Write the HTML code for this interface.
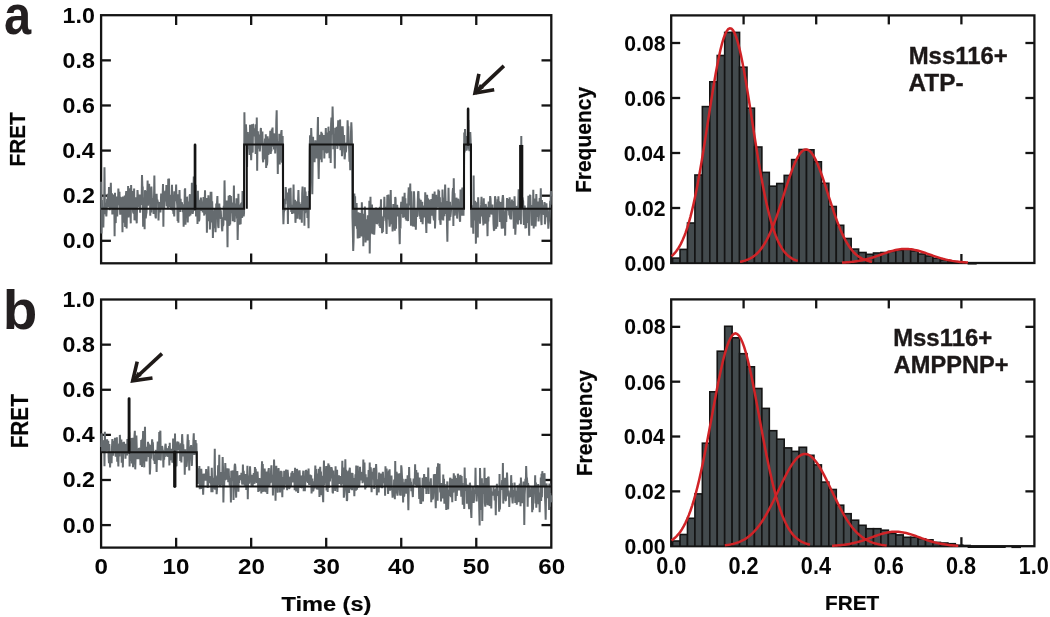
<!DOCTYPE html>
<html><head><meta charset="utf-8"><title>FRET figure</title><style>
html,body{margin:0;padding:0;background:#fff;}
svg{display:block;}
text{font-family:"Liberation Sans", Arial, Helvetica, sans-serif;font-weight:bold;fill:#050505;}
.tk{font-size:21px;}
.ti{stroke:#050505;stroke-width:0.2px;}
.lg{fill:#1c1818;stroke:#1c1818;stroke-width:0.35px;}
.big{font-size:56px;fill:#231f20;}
</style></head><body>
<svg width="1050" height="617" viewBox="0 0 1050 617">
<rect width="1050" height="617" fill="#ffffff"/>
<rect x="101.1" y="15.2" width="450.20" height="248.10" fill="none" stroke="#141414" stroke-width="2.3"/>
<line x1="101.1" y1="240.80" x2="110.89999999999999" y2="240.80" stroke="#141414" stroke-width="2.3"/>
<line x1="551.3" y1="240.80" x2="541.5" y2="240.80" stroke="#141414" stroke-width="2.3"/>
<line x1="101.1" y1="195.69" x2="110.89999999999999" y2="195.69" stroke="#141414" stroke-width="2.3"/>
<line x1="551.3" y1="195.69" x2="541.5" y2="195.69" stroke="#141414" stroke-width="2.3"/>
<line x1="101.1" y1="150.58" x2="110.89999999999999" y2="150.58" stroke="#141414" stroke-width="2.3"/>
<line x1="551.3" y1="150.58" x2="541.5" y2="150.58" stroke="#141414" stroke-width="2.3"/>
<line x1="101.1" y1="105.47" x2="110.89999999999999" y2="105.47" stroke="#141414" stroke-width="2.3"/>
<line x1="551.3" y1="105.47" x2="541.5" y2="105.47" stroke="#141414" stroke-width="2.3"/>
<line x1="101.1" y1="60.36" x2="110.89999999999999" y2="60.36" stroke="#141414" stroke-width="2.3"/>
<line x1="551.3" y1="60.36" x2="541.5" y2="60.36" stroke="#141414" stroke-width="2.3"/>
<line x1="176.13" y1="15.2" x2="176.13" y2="25.0" stroke="#141414" stroke-width="2.3"/>
<line x1="176.13" y1="263.3" x2="176.13" y2="253.5" stroke="#141414" stroke-width="2.3"/>
<line x1="251.17" y1="15.2" x2="251.17" y2="25.0" stroke="#141414" stroke-width="2.3"/>
<line x1="251.17" y1="263.3" x2="251.17" y2="253.5" stroke="#141414" stroke-width="2.3"/>
<line x1="326.20" y1="15.2" x2="326.20" y2="25.0" stroke="#141414" stroke-width="2.3"/>
<line x1="326.20" y1="263.3" x2="326.20" y2="253.5" stroke="#141414" stroke-width="2.3"/>
<line x1="401.23" y1="15.2" x2="401.23" y2="25.0" stroke="#141414" stroke-width="2.3"/>
<line x1="401.23" y1="263.3" x2="401.23" y2="253.5" stroke="#141414" stroke-width="2.3"/>
<line x1="476.27" y1="15.2" x2="476.27" y2="25.0" stroke="#141414" stroke-width="2.3"/>
<line x1="476.27" y1="263.3" x2="476.27" y2="253.5" stroke="#141414" stroke-width="2.3"/>
<polyline points="101.10,181.71 101.48,233.53 101.85,199.99 102.23,211.09 102.60,209.79 102.98,207.10 103.35,227.44 103.73,207.27 104.10,214.40 104.48,167.17 104.85,202.08 105.23,208.59 105.60,207.78 105.98,212.13 106.35,216.49 106.73,208.99 107.10,199.14 107.48,207.25 107.85,193.75 108.23,206.79 108.60,204.26 108.98,187.09 109.35,198.37 109.73,210.20 110.10,206.56 110.48,198.39 110.85,182.66 111.23,207.51 111.60,207.20 111.98,193.15 112.35,214.43 112.73,207.72 113.11,194.47 113.48,197.87 113.86,203.37 114.23,196.84 114.61,236.27 114.98,192.86 115.36,215.18 115.73,223.17 116.11,201.23 116.48,196.44 116.86,209.34 117.23,216.45 117.61,204.01 117.98,204.89 118.36,188.44 118.73,195.85 119.11,202.08 119.48,191.73 119.86,206.57 120.23,214.68 120.61,197.65 120.98,197.65 121.36,206.63 121.73,213.03 122.11,201.61 122.48,232.30 122.86,196.39 123.23,198.63 123.61,222.63 123.99,203.46 124.36,215.01 124.74,195.59 125.11,227.05 125.49,214.42 125.86,196.10 126.24,191.05 126.61,228.41 126.99,209.69 127.36,200.36 127.74,210.92 128.11,186.11 128.49,217.47 128.86,200.03 129.24,215.84 129.61,188.15 129.99,204.24 130.36,208.18 130.74,223.35 131.11,185.01 131.49,195.47 131.86,195.45 132.24,191.11 132.61,199.99 132.99,211.13 133.36,212.93 133.74,212.92 134.11,188.45 134.49,220.35 134.86,210.60 135.24,207.49 135.62,201.32 135.99,197.36 136.37,217.92 136.74,223.33 137.12,203.87 137.49,190.13 137.87,195.26 138.24,201.36 138.62,207.36 138.99,200.46 139.37,206.51 139.74,194.54 140.12,212.70 140.49,202.22 140.87,204.97 141.24,197.59 141.62,201.17 141.99,174.94 142.37,186.79 142.74,186.80 143.12,226.66 143.49,207.50 143.87,210.51 144.24,197.63 144.62,229.33 144.99,190.38 145.37,191.58 145.74,218.28 146.12,214.63 146.50,212.62 146.87,203.09 147.25,196.34 147.62,180.47 148.00,205.78 148.37,194.89 148.75,201.78 149.12,183.68 149.50,195.15 149.87,188.08 150.25,215.65 150.62,205.66 151.00,212.66 151.37,186.50 151.75,196.05 152.12,206.89 152.50,208.55 152.87,197.97 153.25,211.34 153.62,213.91 154.00,197.98 154.37,175.63 154.75,206.17 155.12,209.65 155.50,216.58 155.87,218.42 156.25,197.44 156.62,193.76 157.00,203.24 157.38,199.58 157.75,202.02 158.13,201.75 158.50,220.51 158.88,208.46 159.25,202.03 159.63,212.11 160.00,208.64 160.38,212.50 160.75,207.01 161.13,193.63 161.50,207.82 161.88,204.96 162.25,194.04 162.63,195.94 163.00,184.09 163.38,226.76 163.75,193.52 164.13,208.61 164.50,201.65 164.88,193.71 165.25,190.94 165.63,191.42 166.00,201.38 166.38,184.98 166.75,206.31 167.13,204.70 167.50,194.09 167.88,209.31 168.25,178.72 168.63,191.58 169.01,178.53 169.38,203.35 169.76,207.37 170.13,201.15 170.51,194.75 170.88,209.64 171.26,198.73 171.63,203.19 172.01,184.78 172.38,210.46 172.76,191.18 173.13,210.23 173.51,213.79 173.88,210.96 174.26,216.36 174.63,201.28 175.01,191.30 175.38,201.06 175.76,195.87 176.13,184.50 176.51,199.85 176.88,200.68 177.26,205.97 177.63,221.00 178.01,194.29 178.38,222.65 178.76,195.48 179.13,202.99 179.51,190.12 179.88,203.58 180.26,212.08 180.64,198.76 181.01,209.10 181.39,204.82 181.76,202.30 182.14,204.28 182.51,204.88 182.89,212.13 183.26,204.87 183.64,226.83 184.01,204.49 184.39,216.22 184.76,190.07 185.14,188.37 185.51,224.68 185.89,201.04 186.26,204.09 186.64,214.46 187.01,196.65 187.39,207.84 187.76,222.56 188.14,205.63 188.51,204.28 188.89,201.40 189.26,216.48 189.64,195.64 190.01,194.29 190.39,215.49 190.76,209.99 191.14,203.46 191.52,208.92 191.89,182.87 192.27,200.18 192.64,213.91 193.02,211.39 193.39,203.15 193.77,176.61 194.14,204.49 194.52,201.04 194.89,204.56 195.27,210.86 195.64,184.74 196.02,216.50 196.39,202.16 196.77,208.79 197.14,203.64 197.52,223.96 197.89,190.81 198.27,212.16 198.64,210.46 199.02,221.43 199.39,219.16 199.77,204.62 200.14,199.91 200.52,202.59 200.89,197.50 201.27,203.12 201.64,210.91 202.02,201.84 202.39,204.63 202.77,212.51 203.15,203.23 203.52,196.97 203.90,208.87 204.27,215.58 204.65,203.51 205.02,190.23 205.40,214.08 205.77,212.80 206.15,213.35 206.52,198.07 206.90,232.62 207.27,207.83 207.65,198.56 208.02,221.22 208.40,195.31 208.77,206.11 209.15,218.38 209.52,209.94 209.90,229.59 210.27,218.72 210.65,191.79 211.02,222.51 211.40,191.69 211.77,213.45 212.15,201.37 212.52,212.13 212.90,237.95 213.27,219.18 213.65,210.63 214.03,225.80 214.40,228.06 214.78,208.79 215.15,220.29 215.53,232.14 215.90,220.78 216.28,203.41 216.65,218.50 217.03,202.67 217.40,196.04 217.78,212.94 218.15,226.09 218.53,228.08 218.90,213.75 219.28,203.56 219.65,210.51 220.03,207.42 220.40,218.64 220.78,210.30 221.15,219.05 221.53,217.36 221.90,228.20 222.28,231.30 222.65,218.95 223.03,225.95 223.40,224.22 223.78,205.79 224.15,214.51 224.53,180.39 224.90,202.74 225.28,220.27 225.66,204.30 226.03,209.00 226.41,220.70 226.78,200.48 227.16,221.60 227.53,247.28 227.91,203.79 228.28,219.65 228.66,195.88 229.03,219.90 229.41,225.84 229.78,195.01 230.16,224.54 230.53,210.06 230.91,195.96 231.28,210.96 231.66,213.10 232.03,210.98 232.41,202.62 232.78,221.12 233.16,205.09 233.53,205.41 233.91,185.56 234.28,215.60 234.66,222.07 235.03,203.40 235.41,216.12 235.78,208.32 236.16,210.03 236.54,198.30 236.91,218.82 237.29,212.40 237.66,240.08 238.04,221.29 238.41,193.88 238.79,218.83 239.16,219.00 239.54,224.76 239.91,204.44 240.29,208.91 240.66,224.25 241.04,203.29 241.41,207.82 241.79,202.20 242.16,217.88 242.54,190.99 242.91,205.91 243.29,211.80 243.66,216.27 244.04,213.13 244.41,112.27 244.79,145.22 245.16,127.67 245.54,134.25 245.91,124.30 246.29,131.33 246.66,142.87 247.04,167.09 247.41,138.28 247.79,131.94 248.17,140.20 248.54,135.12 248.92,148.64 249.29,147.51 249.67,154.93 250.04,124.86 250.42,140.67 250.79,149.26 251.17,160.30 251.54,144.96 251.92,124.15 252.29,137.05 252.67,152.64 253.04,124.53 253.42,124.62 253.79,130.54 254.17,133.12 254.54,128.39 254.92,136.47 255.29,133.51 255.67,153.92 256.04,124.17 256.42,140.83 256.79,117.45 257.17,170.70 257.54,134.84 257.92,131.29 258.29,148.69 258.67,138.35 259.05,134.55 259.42,136.86 259.80,151.54 260.17,146.40 260.55,131.29 260.92,127.98 261.30,143.46 261.67,143.82 262.05,142.27 262.42,131.39 262.80,158.73 263.17,162.30 263.55,143.28 263.92,159.35 264.30,152.54 264.67,143.71 265.05,138.51 265.42,158.82 265.80,134.29 266.17,167.96 266.55,137.60 266.92,165.35 267.30,161.37 267.67,136.28 268.05,149.97 268.42,155.04 268.80,150.43 269.17,138.51 269.55,145.28 269.92,144.94 270.30,130.74 270.68,153.88 271.05,150.66 271.43,151.30 271.80,129.16 272.18,131.46 272.55,127.58 272.93,144.83 273.30,146.42 273.68,133.19 274.05,149.49 274.43,133.44 274.80,134.81 275.18,153.40 275.55,145.33 275.93,145.78 276.30,121.53 276.68,110.34 277.05,145.47 277.43,143.96 277.80,173.96 278.18,141.33 278.55,144.17 278.93,158.09 279.30,133.77 279.68,164.50 280.05,146.81 280.43,142.16 280.80,160.29 281.18,132.73 281.56,130.11 281.93,162.03 282.31,162.29 282.68,135.98 283.06,209.61 283.43,224.22 283.81,212.83 284.18,210.47 284.56,210.88 284.93,198.81 285.31,204.27 285.68,187.06 286.06,191.93 286.43,200.53 286.81,195.55 287.18,192.46 287.56,200.09 287.93,224.02 288.31,198.13 288.68,207.86 289.06,188.64 289.43,207.53 289.81,202.13 290.18,204.54 290.56,187.74 290.93,206.37 291.31,211.87 291.68,204.67 292.06,213.92 292.43,206.43 292.81,208.50 293.19,205.00 293.56,184.49 293.94,213.34 294.31,207.82 294.69,210.72 295.06,199.87 295.44,222.84 295.81,216.74 296.19,208.61 296.56,201.31 296.94,208.63 297.31,214.23 297.69,218.74 298.06,201.61 298.44,190.04 298.81,203.89 299.19,205.53 299.56,202.33 299.94,219.49 300.31,211.63 300.69,211.06 301.06,204.04 301.44,208.07 301.81,222.73 302.19,193.65 302.56,186.59 302.94,210.81 303.31,202.57 303.69,204.17 304.07,197.72 304.44,225.77 304.82,187.38 305.19,213.16 305.57,191.64 305.94,206.29 306.32,212.09 306.69,208.97 307.07,196.07 307.44,217.87 307.82,211.79 308.19,213.08 308.57,228.35 308.94,190.91 309.32,199.83 309.69,150.88 310.07,135.38 310.44,163.11 310.82,151.56 311.19,128.03 311.57,137.79 311.94,179.71 312.32,194.18 312.69,164.17 313.07,136.72 313.44,156.78 313.82,153.45 314.19,142.64 314.57,162.18 314.94,147.82 315.32,140.24 315.70,144.49 316.07,145.42 316.45,158.47 316.82,143.87 317.20,156.19 317.57,133.53 317.95,116.99 318.32,160.28 318.70,179.04 319.07,155.83 319.45,144.99 319.82,135.85 320.20,135.13 320.57,159.16 320.95,158.95 321.32,131.66 321.70,162.18 322.07,133.30 322.45,150.18 322.82,136.86 323.20,137.31 323.57,136.04 323.95,135.13 324.32,158.47 324.70,141.30 325.07,144.67 325.45,140.48 325.82,128.04 326.20,147.38 326.58,152.81 326.95,152.68 327.33,146.89 327.70,132.64 328.08,152.80 328.45,126.64 328.83,137.67 329.20,144.09 329.58,158.21 329.95,137.25 330.33,131.07 330.70,162.87 331.08,123.85 331.45,117.55 331.83,134.33 332.20,131.99 332.58,106.52 332.95,121.63 333.33,149.15 333.70,137.29 334.08,139.26 334.45,139.31 334.83,168.40 335.20,127.71 335.58,146.07 335.95,135.74 336.33,139.80 336.70,126.76 337.08,142.16 337.45,148.83 337.83,131.59 338.21,120.32 338.58,143.01 338.96,121.05 339.33,135.67 339.71,146.20 340.08,119.42 340.46,150.21 340.83,126.38 341.21,146.29 341.58,134.02 341.96,156.19 342.33,151.14 342.71,126.39 343.08,137.99 343.46,140.09 343.83,146.48 344.21,135.02 344.58,159.27 344.96,155.78 345.33,143.33 345.71,152.31 346.08,150.70 346.46,142.61 346.83,143.60 347.21,144.85 347.58,120.30 347.96,128.99 348.33,126.26 348.71,142.85 349.09,149.22 349.46,161.77 349.84,147.44 350.21,170.31 350.59,150.79 350.96,133.30 351.34,122.22 351.71,130.94 352.09,154.97 352.46,217.21 352.84,231.63 353.21,250.95 353.59,240.80 353.96,212.97 354.34,193.61 354.71,212.19 355.09,196.26 355.46,220.53 355.84,226.22 356.21,207.44 356.59,203.01 356.96,228.68 357.34,221.53 357.71,238.54 358.09,224.59 358.46,212.29 358.84,223.25 359.21,228.67 359.59,238.09 359.96,218.04 360.34,213.18 360.72,215.41 361.09,219.23 361.47,236.45 361.84,202.19 362.22,222.66 362.59,223.63 362.97,213.71 363.34,246.33 363.72,222.64 364.09,223.43 364.47,217.66 364.84,206.64 365.22,216.48 365.59,242.43 365.97,225.57 366.34,219.40 366.72,220.03 367.09,236.11 367.47,240.39 367.84,215.28 368.22,217.44 368.59,221.40 368.97,240.46 369.34,200.84 369.72,253.39 370.09,224.63 370.47,196.79 370.84,221.99 371.22,217.44 371.60,233.19 371.97,204.42 372.35,234.15 372.72,216.55 373.10,217.74 373.47,230.95 373.85,208.95 374.22,234.76 374.60,226.34 374.97,218.80 375.35,222.97 375.72,212.89 376.10,207.58 376.47,221.16 376.85,223.79 377.22,223.36 377.60,221.49 377.97,208.08 378.35,219.51 378.72,212.30 379.10,217.77 379.47,226.10 379.85,206.69 380.22,227.97 380.60,216.04 380.97,199.18 381.35,228.12 381.72,216.26 382.10,233.34 382.47,221.06 382.85,232.01 383.23,219.08 383.60,220.91 383.98,213.20 384.35,196.67 384.73,211.18 385.10,206.79 385.48,214.63 385.85,216.65 386.23,223.14 386.60,233.95 386.98,212.78 387.35,195.09 387.73,207.99 388.10,219.29 388.48,194.58 388.85,217.96 389.23,219.97 389.60,226.57 389.98,223.65 390.35,215.48 390.73,190.07 391.10,214.84 391.48,224.05 391.85,219.16 392.23,214.75 392.60,231.44 392.98,210.62 393.35,204.05 393.73,208.24 394.11,204.99 394.48,226.21 394.86,230.73 395.23,196.99 395.61,199.05 395.98,228.66 396.36,208.88 396.73,210.82 397.11,204.87 397.48,208.57 397.86,216.49 398.23,208.53 398.61,208.87 398.98,211.09 399.36,231.34 399.73,244.13 400.11,219.17 400.48,228.60 400.86,207.23 401.23,201.91 401.61,206.92 401.98,213.96 402.36,208.91 402.73,196.44 403.11,217.73 403.48,199.02 403.86,201.35 404.23,206.28 404.61,192.77 404.99,217.14 405.36,198.32 405.74,219.33 406.11,217.41 406.49,220.61 406.86,203.55 407.24,219.07 407.61,207.80 407.99,221.11 408.36,196.17 408.74,187.40 409.11,205.55 409.49,189.57 409.86,201.78 410.24,183.64 410.61,206.98 410.99,225.81 411.36,191.30 411.74,209.53 412.11,219.78 412.49,215.50 412.86,226.44 413.24,209.99 413.61,220.18 413.99,191.37 414.36,200.61 414.74,226.82 415.11,225.12 415.49,214.50 415.86,229.81 416.24,209.34 416.62,208.59 416.99,216.82 417.37,214.26 417.74,202.48 418.12,192.07 418.49,191.24 418.87,207.72 419.24,198.45 419.62,216.43 419.99,203.46 420.37,218.92 420.74,199.88 421.12,222.07 421.49,218.98 421.87,208.20 422.24,201.82 422.62,224.32 422.99,214.15 423.37,206.58 423.74,205.52 424.12,217.56 424.49,207.01 424.87,211.12 425.24,192.27 425.62,201.82 425.99,223.03 426.37,232.93 426.74,206.98 427.12,194.77 427.49,206.14 427.87,198.16 428.25,213.57 428.62,223.48 429.00,199.66 429.37,206.99 429.75,200.39 430.12,223.68 430.50,206.06 430.87,215.16 431.25,199.01 431.62,214.65 432.00,214.95 432.37,214.71 432.75,193.85 433.12,207.78 433.50,216.67 433.87,219.63 434.25,219.87 434.62,191.61 435.00,228.56 435.37,217.69 435.75,200.91 436.12,194.81 436.50,209.77 436.87,199.25 437.25,199.54 437.62,196.98 438.00,207.58 438.37,189.44 438.75,205.67 439.13,190.65 439.50,220.31 439.88,197.27 440.25,222.03 440.63,224.74 441.00,202.18 441.38,217.12 441.75,202.72 442.13,219.82 442.50,189.61 442.88,207.59 443.25,220.44 443.63,205.67 444.00,197.68 444.38,216.30 444.75,201.77 445.13,184.50 445.50,197.78 445.88,207.66 446.25,213.96 446.63,201.01 447.00,224.61 447.38,241.78 447.75,215.02 448.13,219.70 448.50,187.81 448.88,205.89 449.25,218.57 449.63,220.56 450.00,201.81 450.38,216.80 450.76,213.99 451.13,208.44 451.51,206.41 451.88,206.29 452.26,206.08 452.63,192.68 453.01,188.16 453.38,225.97 453.76,178.27 454.13,205.86 454.51,193.28 454.88,215.64 455.26,203.62 455.63,204.86 456.01,206.00 456.38,197.67 456.76,200.15 457.13,218.60 457.51,208.59 457.88,199.04 458.26,199.51 458.63,211.04 459.01,210.42 459.38,208.99 459.76,219.71 460.13,221.77 460.51,189.56 460.88,211.71 461.26,206.18 461.64,215.69 462.01,192.62 462.39,187.50 462.76,209.73 463.14,201.45 463.51,215.77 463.89,187.35 464.26,132.55 464.64,152.46 465.01,128.92 465.39,138.93 465.76,138.32 466.14,138.96 466.51,150.54 466.89,149.07 467.26,135.99 467.64,143.57 468.01,134.81 468.39,120.12 468.76,145.39 469.14,149.34 469.51,150.91 469.89,135.26 470.26,132.06 470.64,140.28 471.01,200.90 471.39,227.61 471.76,214.90 472.14,216.02 472.51,210.67 472.89,205.22 473.27,233.74 473.64,175.50 474.02,220.53 474.39,206.88 474.77,201.44 475.14,201.19 475.52,208.09 475.89,243.63 476.27,223.09 476.64,202.30 477.02,221.26 477.39,222.80 477.77,237.47 478.14,197.20 478.52,205.21 478.89,221.06 479.27,212.51 479.64,212.17 480.02,223.65 480.39,214.18 480.77,208.25 481.14,204.90 481.52,196.88 481.89,210.84 482.27,216.40 482.64,206.66 483.02,218.31 483.39,225.34 483.77,198.34 484.15,215.54 484.52,209.89 484.90,203.93 485.27,223.75 485.65,204.03 486.02,206.19 486.40,212.37 486.77,206.82 487.15,219.80 487.52,236.14 487.90,214.47 488.27,221.55 488.65,201.48 489.02,208.30 489.40,217.25 489.77,210.75 490.15,196.03 490.52,198.48 490.90,207.12 491.27,206.43 491.65,214.42 492.02,212.76 492.40,204.64 492.77,212.64 493.15,207.92 493.52,223.88 493.90,230.11 494.27,230.46 494.65,216.23 495.02,196.33 495.40,197.96 495.78,222.55 496.15,228.86 496.53,202.36 496.90,206.08 497.28,226.74 497.65,199.38 498.03,209.34 498.40,196.38 498.78,207.45 499.15,201.27 499.53,207.69 499.90,222.06 500.28,213.94 500.65,218.96 501.03,201.95 501.40,222.55 501.78,228.62 502.15,203.63 502.53,198.40 502.90,195.02 503.28,199.01 503.65,228.34 504.03,219.19 504.40,217.52 504.78,211.60 505.15,235.64 505.53,211.46 505.90,208.23 506.28,222.07 506.66,210.02 507.03,197.92 507.41,210.84 507.78,199.44 508.16,199.92 508.53,206.73 508.91,207.03 509.28,215.55 509.66,197.36 510.03,216.67 510.41,219.22 510.78,203.40 511.16,219.54 511.53,206.55 511.91,199.44 512.28,210.44 512.66,210.16 513.03,200.99 513.41,202.85 513.78,228.71 514.16,226.12 514.53,196.32 514.91,206.93 515.28,234.79 515.66,226.53 516.03,211.03 516.41,222.36 516.78,206.01 517.16,210.41 517.53,205.76 517.91,224.46 518.29,204.28 518.66,189.18 519.04,220.23 519.41,196.45 519.79,200.19 520.16,203.99 520.54,211.99 520.91,224.34 521.29,135.94 521.66,202.62 522.04,200.19 522.41,197.44 522.79,200.40 523.16,201.04 523.54,216.12 523.91,224.84 524.29,208.92 524.66,205.58 525.04,210.25 525.41,228.36 525.79,217.08 526.16,227.87 526.54,209.57 526.91,223.05 527.29,213.09 527.66,207.57 528.04,209.66 528.41,195.77 528.79,223.66 529.17,235.82 529.54,200.54 529.92,195.38 530.29,195.04 530.67,207.97 531.04,205.09 531.42,209.79 531.79,225.77 532.17,217.60 532.54,205.56 532.92,217.66 533.29,189.64 533.67,228.52 534.04,216.04 534.42,198.63 534.79,217.99 535.17,223.91 535.54,226.47 535.92,219.33 536.29,194.11 536.67,206.52 537.04,205.31 537.42,216.98 537.79,201.61 538.17,209.92 538.54,221.51 538.92,216.22 539.29,208.83 539.67,197.92 540.04,211.77 540.42,205.47 540.80,188.34 541.17,220.11 541.55,225.10 541.92,200.02 542.30,206.16 542.67,212.21 543.05,208.12 543.42,214.81 543.80,205.28 544.17,214.88 544.55,202.07 544.92,224.29 545.30,220.30 545.67,209.78 546.05,216.38 546.42,203.24 546.80,211.56 547.17,217.19 547.55,208.71 547.92,217.03 548.30,228.63 548.67,223.88 549.05,220.10 549.42,216.36 549.80,209.95 550.17,200.77 550.55,204.82 550.92,190.96 551.30,196.65" fill="none" stroke="#656b6f" stroke-width="2.0" stroke-linejoin="bevel"/>
<polyline points="101.10,208.78 244.11,208.78 244.11,144.51 246.81,144.51 246.81,208.78 246.81,144.51 283.06,144.51 283.06,208.78 309.84,208.78 309.84,144.51 352.91,144.51 352.91,208.78 464.04,208.78 464.04,144.51 471.01,144.51 471.01,208.78 551.30,208.78" fill="none" stroke="#141414" stroke-width="2.0" stroke-linejoin="miter"/>
<line x1="195.04" y1="208.78" x2="195.04" y2="144.96" stroke="#141414" stroke-width="2.7" stroke-linecap="round"/>
<line x1="468.09" y1="144.51" x2="468.09" y2="108.88" stroke="#141414" stroke-width="2.6" stroke-linecap="round"/>
<line x1="521.21" y1="208.78" x2="521.21" y2="144.96" stroke="#141414" stroke-width="4.2" stroke-linecap="butt"/>
<line x1="503.9" y1="65.9" x2="475.0" y2="93.1" stroke="#1f1a18" stroke-width="3.6"/>
<polyline points="478.9,73.8 475.0,93.1 494.2,89.7" fill="none" stroke="#1f1a18" stroke-width="3.6" stroke-linejoin="miter" stroke-miterlimit="10"/>
<polygon points="475.0,93.1 480.0,84.1 484.0,88.1" fill="#1f1a18"/>
<rect x="101.1" y="299.5" width="450.20" height="248.10" fill="none" stroke="#141414" stroke-width="2.3"/>
<line x1="101.1" y1="525.10" x2="110.89999999999999" y2="525.10" stroke="#141414" stroke-width="2.3"/>
<line x1="551.3" y1="525.10" x2="541.5" y2="525.10" stroke="#141414" stroke-width="2.3"/>
<line x1="101.1" y1="479.99" x2="110.89999999999999" y2="479.99" stroke="#141414" stroke-width="2.3"/>
<line x1="551.3" y1="479.99" x2="541.5" y2="479.99" stroke="#141414" stroke-width="2.3"/>
<line x1="101.1" y1="434.88" x2="110.89999999999999" y2="434.88" stroke="#141414" stroke-width="2.3"/>
<line x1="551.3" y1="434.88" x2="541.5" y2="434.88" stroke="#141414" stroke-width="2.3"/>
<line x1="101.1" y1="389.77" x2="110.89999999999999" y2="389.77" stroke="#141414" stroke-width="2.3"/>
<line x1="551.3" y1="389.77" x2="541.5" y2="389.77" stroke="#141414" stroke-width="2.3"/>
<line x1="101.1" y1="344.66" x2="110.89999999999999" y2="344.66" stroke="#141414" stroke-width="2.3"/>
<line x1="551.3" y1="344.66" x2="541.5" y2="344.66" stroke="#141414" stroke-width="2.3"/>
<line x1="176.13" y1="299.5" x2="176.13" y2="309.3" stroke="#141414" stroke-width="2.3"/>
<line x1="176.13" y1="547.6" x2="176.13" y2="537.8000000000001" stroke="#141414" stroke-width="2.3"/>
<line x1="251.17" y1="299.5" x2="251.17" y2="309.3" stroke="#141414" stroke-width="2.3"/>
<line x1="251.17" y1="547.6" x2="251.17" y2="537.8000000000001" stroke="#141414" stroke-width="2.3"/>
<line x1="326.20" y1="299.5" x2="326.20" y2="309.3" stroke="#141414" stroke-width="2.3"/>
<line x1="326.20" y1="547.6" x2="326.20" y2="537.8000000000001" stroke="#141414" stroke-width="2.3"/>
<line x1="401.23" y1="299.5" x2="401.23" y2="309.3" stroke="#141414" stroke-width="2.3"/>
<line x1="401.23" y1="547.6" x2="401.23" y2="537.8000000000001" stroke="#141414" stroke-width="2.3"/>
<line x1="476.27" y1="299.5" x2="476.27" y2="309.3" stroke="#141414" stroke-width="2.3"/>
<line x1="476.27" y1="547.6" x2="476.27" y2="537.8000000000001" stroke="#141414" stroke-width="2.3"/>
<polyline points="101.10,446.96 101.48,433.53 101.85,434.93 102.23,452.57 102.60,450.44 102.98,452.80 103.35,441.69 103.73,448.07 104.10,439.95 104.48,466.30 104.85,431.69 105.23,448.59 105.60,440.74 105.98,449.05 106.35,451.54 106.73,443.03 107.10,439.39 107.48,449.84 107.85,449.36 108.23,440.88 108.60,456.70 108.98,463.26 109.35,443.91 109.73,454.76 110.10,467.47 110.48,456.27 110.85,452.78 111.23,460.17 111.60,463.24 111.98,447.75 112.35,439.04 112.73,450.54 113.11,455.75 113.48,444.33 113.86,440.98 114.23,451.33 114.61,442.79 114.98,437.76 115.36,450.47 115.73,456.66 116.11,444.90 116.48,445.97 116.86,437.39 117.23,461.63 117.61,455.37 117.98,457.22 118.36,466.36 118.73,447.54 119.11,443.53 119.48,456.43 119.86,434.93 120.23,440.71 120.61,442.74 120.98,445.09 121.36,439.52 121.73,462.79 122.11,443.10 122.48,443.27 122.86,467.38 123.23,445.98 123.61,452.10 123.99,441.68 124.36,454.13 124.74,449.91 125.11,446.30 125.49,458.73 125.86,443.82 126.24,451.02 126.61,445.01 126.99,455.36 127.36,439.10 127.74,444.04 128.11,452.04 128.49,443.88 128.86,437.56 129.24,432.23 129.61,466.43 129.99,441.55 130.36,445.85 130.74,451.58 131.11,460.90 131.49,437.98 131.86,463.60 132.24,445.10 132.61,437.70 132.99,467.20 133.36,454.09 133.74,464.36 134.11,448.66 134.49,435.83 134.86,430.71 135.24,469.35 135.62,457.20 135.99,444.28 136.37,435.45 136.74,447.26 137.12,459.16 137.49,448.63 137.87,451.87 138.24,453.82 138.62,459.27 138.99,447.94 139.37,448.80 139.74,452.93 140.12,454.29 140.49,465.13 140.87,457.08 141.24,439.96 141.62,454.20 141.99,466.93 142.37,438.83 142.74,447.05 143.12,431.10 143.49,451.91 143.87,457.28 144.24,467.35 144.62,439.28 144.99,426.70 145.37,461.16 145.74,459.45 146.12,446.89 146.50,461.35 146.87,455.65 147.25,456.44 147.62,450.93 148.00,441.75 148.37,452.62 148.75,443.50 149.12,457.07 149.50,449.46 149.87,474.47 150.25,467.47 150.62,444.66 151.00,458.71 151.37,446.82 151.75,447.19 152.12,439.25 152.50,444.42 152.87,442.32 153.25,453.76 153.62,459.69 154.00,460.01 154.37,457.52 154.75,464.02 155.12,458.09 155.50,453.46 155.87,449.95 156.25,455.93 156.62,471.99 157.00,453.19 157.38,450.15 157.75,441.42 158.13,446.54 158.50,458.92 158.88,459.72 159.25,431.95 159.63,444.66 160.00,433.74 160.38,430.70 160.75,460.59 161.13,448.36 161.50,447.61 161.88,446.56 162.25,446.72 162.63,450.15 163.00,450.42 163.38,467.42 163.75,453.83 164.13,459.72 164.50,450.84 164.88,456.85 165.25,445.81 165.63,443.76 166.00,448.92 166.38,448.83 166.75,451.08 167.13,456.55 167.50,453.66 167.88,457.00 168.25,448.02 168.63,451.79 169.01,446.02 169.38,465.39 169.76,442.88 170.13,459.61 170.51,459.31 170.88,453.84 171.26,457.54 171.63,448.85 172.01,457.61 172.38,462.62 172.76,460.34 173.13,438.42 173.51,451.27 173.88,463.55 174.26,451.60 174.63,467.46 175.01,433.49 175.38,467.11 175.76,446.76 176.13,446.09 176.51,466.30 176.88,448.52 177.26,441.43 177.63,446.79 178.01,448.87 178.38,441.87 178.76,449.85 179.13,448.06 179.51,452.74 179.88,445.03 180.26,460.97 180.64,443.37 181.01,456.51 181.39,462.44 181.76,447.65 182.14,434.16 182.51,441.56 182.89,456.54 183.26,444.20 183.64,455.88 184.01,452.51 184.39,450.33 184.76,474.73 185.14,449.26 185.51,461.63 185.89,458.25 186.26,466.11 186.64,466.53 187.01,460.69 187.39,442.72 187.76,434.18 188.14,451.32 188.51,439.97 188.89,453.71 189.26,470.42 189.64,449.48 190.01,446.46 190.39,455.32 190.76,447.89 191.14,445.13 191.52,459.68 191.89,465.89 192.27,453.13 192.64,453.01 193.02,454.43 193.39,440.82 193.77,433.31 194.14,455.03 194.52,443.69 194.89,441.22 195.27,443.52 195.64,440.11 196.02,454.67 196.39,443.19 196.77,460.16 197.14,472.17 197.52,484.05 197.89,473.81 198.27,468.35 198.64,475.81 199.02,483.59 199.39,466.02 199.77,489.33 200.14,474.70 200.52,479.04 200.89,488.87 201.27,468.73 201.64,476.01 202.02,488.66 202.39,473.90 202.77,482.53 203.15,494.82 203.52,484.68 203.90,476.73 204.27,473.63 204.65,477.56 205.02,478.57 205.40,475.02 205.77,480.71 206.15,469.12 206.52,477.72 206.90,476.51 207.27,474.45 207.65,487.80 208.02,484.90 208.40,466.20 208.77,476.18 209.15,481.34 209.52,476.13 209.90,483.01 210.27,476.66 210.65,484.56 211.02,476.69 211.40,492.19 211.77,467.88 212.15,483.29 212.52,492.23 212.90,480.88 213.27,482.12 213.65,477.75 214.03,488.60 214.40,475.70 214.78,448.73 215.15,489.73 215.53,476.21 215.90,481.64 216.28,477.43 216.65,494.20 217.03,488.68 217.40,475.21 217.78,479.38 218.15,465.38 218.53,484.96 218.90,477.61 219.28,454.69 219.65,485.48 220.03,486.64 220.40,479.37 220.78,479.45 221.15,472.02 221.53,478.00 221.90,485.43 222.28,477.32 222.65,457.01 223.03,468.45 223.40,502.40 223.78,480.30 224.15,486.44 224.53,473.90 224.90,480.57 225.28,462.94 225.66,471.33 226.03,471.67 226.41,477.57 226.78,479.47 227.16,476.29 227.53,468.29 227.91,474.67 228.28,482.09 228.66,468.47 229.03,477.54 229.41,479.81 229.78,485.79 230.16,483.91 230.53,484.50 230.91,502.57 231.28,470.65 231.66,474.43 232.03,480.98 232.41,470.42 232.78,475.51 233.16,476.07 233.53,499.94 233.91,481.15 234.28,474.74 234.66,465.71 235.03,463.77 235.41,467.25 235.78,488.95 236.16,497.65 236.54,474.43 236.91,478.99 237.29,471.15 237.66,480.28 238.04,477.39 238.41,491.82 238.79,475.48 239.16,482.97 239.54,476.31 239.91,475.39 240.29,480.24 240.66,476.60 241.04,479.37 241.41,472.89 241.79,475.05 242.16,483.86 242.54,484.21 242.91,464.64 243.29,480.13 243.66,470.95 244.04,475.98 244.41,484.02 244.79,485.58 245.16,478.29 245.54,477.14 245.91,474.14 246.29,489.94 246.66,484.30 247.04,480.11 247.41,465.87 247.79,499.14 248.17,475.63 248.54,483.86 248.92,475.70 249.29,483.46 249.67,476.27 250.04,466.19 250.42,476.36 250.79,475.70 251.17,476.21 251.54,485.65 251.92,474.79 252.29,481.11 252.67,486.18 253.04,479.69 253.42,481.28 253.79,473.04 254.17,479.73 254.54,483.83 254.92,467.14 255.29,471.07 255.67,468.71 256.04,474.28 256.42,480.31 256.79,482.92 257.17,481.75 257.54,471.43 257.92,478.46 258.29,491.88 258.67,479.74 259.05,491.33 259.42,478.02 259.80,489.55 260.17,490.06 260.55,478.43 260.92,480.09 261.30,493.42 261.67,473.14 262.05,461.24 262.42,491.91 262.80,464.13 263.17,485.24 263.55,483.61 263.92,480.96 264.30,491.63 264.67,468.53 265.05,475.32 265.42,485.80 265.80,481.81 266.17,492.24 266.55,482.41 266.92,471.60 267.30,493.93 267.67,483.16 268.05,478.26 268.42,470.67 268.80,468.14 269.17,483.35 269.55,485.74 269.92,475.72 270.30,482.57 270.68,482.13 271.05,470.42 271.43,465.29 271.80,477.29 272.18,481.15 272.55,474.72 272.93,495.44 273.30,479.69 273.68,488.48 274.05,459.41 274.43,473.48 274.80,478.36 275.18,481.19 275.55,500.76 275.93,473.55 276.30,465.83 276.68,485.71 277.05,473.81 277.43,473.48 277.80,492.63 278.18,471.69 278.55,468.16 278.93,477.66 279.30,480.12 279.68,472.95 280.05,492.59 280.43,478.81 280.80,470.71 281.18,490.09 281.56,471.24 281.93,483.14 282.31,497.17 282.68,480.51 283.06,487.83 283.43,476.93 283.81,489.52 284.18,470.77 284.56,485.87 284.93,476.63 285.31,484.66 285.68,482.37 286.06,469.59 286.43,477.84 286.81,482.99 287.18,490.23 287.56,469.87 287.93,473.48 288.31,482.43 288.68,477.62 289.06,488.37 289.43,488.25 289.81,486.66 290.18,476.70 290.56,477.19 290.93,485.99 291.31,473.46 291.68,473.07 292.06,478.24 292.43,470.93 292.81,482.14 293.19,480.67 293.56,475.72 293.94,480.01 294.31,473.01 294.69,490.31 295.06,467.68 295.44,486.34 295.81,481.13 296.19,491.38 296.56,474.67 296.94,468.98 297.31,470.69 297.69,472.71 298.06,492.92 298.44,486.37 298.81,483.67 299.19,487.67 299.56,470.27 299.94,478.21 300.31,479.98 300.69,475.65 301.06,487.83 301.44,487.47 301.81,487.24 302.19,475.58 302.56,476.90 302.94,474.91 303.31,470.68 303.69,491.29 304.07,484.55 304.44,478.56 304.82,491.23 305.19,484.32 305.57,471.24 305.94,470.49 306.32,470.71 306.69,479.47 307.07,481.63 307.44,470.70 307.82,482.99 308.19,476.98 308.57,468.63 308.94,482.96 309.32,485.02 309.69,479.94 310.07,474.79 310.44,475.78 310.82,478.55 311.19,475.16 311.57,493.42 311.94,487.15 312.32,478.50 312.69,487.75 313.07,491.25 313.44,490.12 313.82,487.67 314.19,481.41 314.57,488.56 314.94,477.91 315.32,465.53 315.70,481.16 316.07,469.11 316.45,477.47 316.82,489.41 317.20,482.09 317.57,488.25 317.95,473.42 318.32,489.71 318.70,468.72 319.07,475.04 319.45,497.09 319.82,473.29 320.20,466.78 320.57,486.65 320.95,471.60 321.32,495.21 321.70,477.82 322.07,494.06 322.45,475.88 322.82,495.14 323.20,502.31 323.57,476.62 323.95,460.57 324.32,485.04 324.70,472.94 325.07,479.05 325.45,482.74 325.82,474.77 326.20,466.06 326.58,490.48 326.95,475.21 327.33,477.07 327.70,492.09 328.08,466.29 328.45,463.45 328.83,488.09 329.20,465.25 329.58,479.52 329.95,481.39 330.33,467.23 330.70,478.07 331.08,477.26 331.45,467.11 331.83,469.06 332.20,472.41 332.58,491.90 332.95,493.36 333.33,470.43 333.70,487.87 334.08,478.74 334.45,489.12 334.83,481.56 335.20,490.86 335.58,466.15 335.95,488.66 336.33,481.04 336.70,481.60 337.08,469.75 337.45,492.07 337.83,480.28 338.21,481.78 338.58,475.50 338.96,475.99 339.33,483.94 339.71,477.96 340.08,483.18 340.46,476.02 340.83,480.87 341.21,485.57 341.58,480.23 341.96,476.91 342.33,460.73 342.71,484.18 343.08,477.39 343.46,467.56 343.83,497.68 344.21,494.83 344.58,490.11 344.96,480.97 345.33,459.24 345.71,476.67 346.08,469.72 346.46,481.89 346.83,500.96 347.21,499.69 347.58,471.33 347.96,478.43 348.33,491.05 348.71,470.49 349.09,493.10 349.46,470.35 349.84,467.65 350.21,486.51 350.59,489.43 350.96,472.81 351.34,489.33 351.71,472.66 352.09,490.18 352.46,473.12 352.84,479.20 353.21,483.69 353.59,487.63 353.96,477.98 354.34,496.12 354.71,482.35 355.09,483.37 355.46,474.22 355.84,490.68 356.21,465.40 356.59,482.65 356.96,489.70 357.34,468.19 357.71,465.83 358.09,481.60 358.46,487.59 358.84,479.86 359.21,485.88 359.59,482.66 359.96,466.72 360.34,476.66 360.72,478.76 361.09,477.05 361.47,480.50 361.84,472.83 362.22,472.50 362.59,483.15 362.97,479.10 363.34,459.42 363.72,476.40 364.09,481.58 364.47,462.52 364.84,479.92 365.22,489.36 365.59,474.25 365.97,487.68 366.34,484.24 366.72,477.22 367.09,481.08 367.47,486.51 367.84,484.70 368.22,485.06 368.59,470.05 368.97,486.15 369.34,484.88 369.72,462.60 370.09,484.73 370.47,467.29 370.84,468.77 371.22,481.30 371.60,492.12 371.97,476.13 372.35,474.26 372.72,471.74 373.10,479.39 373.47,469.72 373.85,468.13 374.22,489.00 374.60,467.79 374.97,478.51 375.35,484.83 375.72,482.72 376.10,463.96 376.47,471.59 376.85,495.28 377.22,479.29 377.60,481.19 377.97,481.50 378.35,484.38 378.72,492.44 379.10,472.64 379.47,488.03 379.85,483.16 380.22,485.15 380.60,486.22 380.97,473.65 381.35,476.72 381.72,485.76 382.10,488.08 382.47,484.01 382.85,471.73 383.23,478.92 383.60,478.01 383.98,482.81 384.35,482.20 384.73,478.15 385.10,495.76 385.48,466.21 385.85,486.74 386.23,484.86 386.60,468.65 386.98,478.29 387.35,479.94 387.73,485.38 388.10,493.85 388.48,479.01 388.85,470.46 389.23,488.49 389.60,469.23 389.98,490.63 390.35,487.37 390.73,476.85 391.10,481.28 391.48,475.47 391.85,487.83 392.23,490.41 392.60,497.66 392.98,492.08 393.35,491.09 393.73,494.19 394.11,479.43 394.48,487.85 394.86,499.29 395.23,461.10 395.61,489.62 395.98,493.32 396.36,472.05 396.73,472.78 397.11,492.72 397.48,495.58 397.86,491.62 398.23,473.48 398.61,485.92 398.98,490.28 399.36,483.70 399.73,473.23 400.11,495.56 400.48,487.04 400.86,495.70 401.23,465.33 401.61,468.44 401.98,475.97 402.36,485.39 402.73,478.66 403.11,502.59 403.48,482.15 403.86,496.21 404.23,496.23 404.61,490.96 404.99,487.98 405.36,480.03 405.74,479.02 406.11,482.93 406.49,493.59 406.86,479.50 407.24,486.59 407.61,475.25 407.99,493.80 408.36,510.19 408.74,490.13 409.11,466.99 409.49,481.96 409.86,487.94 410.24,478.46 410.61,481.94 410.99,482.40 411.36,491.19 411.74,486.03 412.11,485.01 412.49,492.67 412.86,497.05 413.24,485.85 413.61,478.48 413.99,481.46 414.36,482.94 414.74,482.94 415.11,464.20 415.49,485.34 415.86,478.33 416.24,470.09 416.62,487.41 416.99,485.48 417.37,478.36 417.74,472.45 418.12,485.02 418.49,484.56 418.87,487.06 419.24,498.98 419.62,477.59 419.99,490.22 420.37,503.77 420.74,489.23 421.12,503.90 421.49,497.22 421.87,487.70 422.24,496.43 422.62,477.87 422.99,501.56 423.37,485.38 423.74,482.61 424.12,474.14 424.49,479.17 424.87,485.63 425.24,487.06 425.62,488.36 425.99,477.06 426.37,494.01 426.74,482.87 427.12,488.69 427.49,485.52 427.87,490.29 428.25,467.48 428.62,494.06 429.00,485.38 429.37,485.15 429.75,481.97 430.12,483.47 430.50,483.71 430.87,478.35 431.25,502.26 431.62,487.68 432.00,499.68 432.37,485.53 432.75,499.22 433.12,497.07 433.50,488.36 433.87,474.21 434.25,482.15 434.62,484.88 435.00,474.08 435.37,497.00 435.75,508.22 436.12,491.91 436.50,490.49 436.87,475.64 437.25,466.73 437.62,500.85 438.00,463.34 438.37,472.32 438.75,479.47 439.13,484.11 439.50,463.71 439.88,486.96 440.25,492.46 440.63,486.37 441.00,501.40 441.38,483.04 441.75,488.85 442.13,484.45 442.50,484.14 442.88,498.37 443.25,474.53 443.63,497.95 444.00,478.81 444.38,503.81 444.75,484.00 445.13,496.04 445.50,487.31 445.88,494.35 446.25,509.90 446.63,499.05 447.00,487.04 447.38,481.40 447.75,502.66 448.13,509.32 448.50,496.60 448.88,489.88 449.25,494.17 449.63,495.96 450.00,479.09 450.38,477.92 450.76,480.19 451.13,497.27 451.51,486.96 451.88,489.71 452.26,502.26 452.63,478.76 453.01,486.84 453.38,492.67 453.76,473.31 454.13,480.02 454.51,479.13 454.88,475.68 455.26,480.65 455.63,500.91 456.01,492.04 456.38,477.91 456.76,496.03 457.13,487.87 457.51,484.25 457.88,473.66 458.26,475.17 458.63,479.31 459.01,490.44 459.38,479.26 459.76,483.26 460.13,490.36 460.51,474.91 460.88,483.78 461.26,496.60 461.64,476.01 462.01,491.61 462.39,482.99 462.76,504.69 463.14,489.37 463.51,498.91 463.89,499.24 464.26,508.89 464.64,467.49 465.01,491.01 465.39,487.09 465.76,478.25 466.14,490.89 466.51,484.45 466.89,503.68 467.26,487.81 467.64,494.12 468.01,484.81 468.39,488.14 468.76,504.25 469.14,509.09 469.51,500.57 469.89,482.67 470.26,485.93 470.64,486.21 471.01,511.11 471.39,518.04 471.76,496.92 472.14,493.99 472.51,496.83 472.89,487.06 473.27,492.52 473.64,503.00 474.02,499.92 474.39,489.47 474.77,490.25 475.14,491.82 475.52,467.83 475.89,493.88 476.27,490.00 476.64,501.53 477.02,495.05 477.39,486.03 477.77,485.64 478.14,493.15 478.52,487.53 478.89,491.09 479.27,511.07 479.64,525.48 480.02,468.05 480.39,483.34 480.77,492.54 481.14,509.90 481.52,505.20 481.89,478.15 482.27,520.90 482.64,495.58 483.02,483.34 483.39,490.87 483.77,484.62 484.15,493.81 484.52,467.83 484.90,503.17 485.27,506.68 485.65,489.85 486.02,477.99 486.40,493.37 486.77,482.03 487.15,498.39 487.52,505.20 487.90,478.57 488.27,476.88 488.65,477.30 489.02,497.72 489.40,505.18 489.77,505.39 490.15,495.68 490.52,487.40 490.90,488.21 491.27,508.36 491.65,491.50 492.02,493.32 492.40,492.56 492.77,493.72 493.15,495.55 493.52,487.30 493.90,492.12 494.27,491.08 494.65,500.56 495.02,489.29 495.40,494.63 495.78,515.27 496.15,488.34 496.53,496.07 496.90,483.72 497.28,494.98 497.65,494.28 498.03,491.08 498.40,493.39 498.78,497.88 499.15,511.84 499.53,474.10 499.90,509.59 500.28,496.74 500.65,486.40 501.03,489.22 501.40,487.26 501.78,485.15 502.15,480.00 502.53,490.02 502.90,462.89 503.28,503.61 503.65,490.70 504.03,496.80 504.40,498.70 504.78,490.04 505.15,477.84 505.53,500.38 505.90,500.38 506.28,485.43 506.66,487.29 507.03,472.56 507.41,482.22 507.78,490.52 508.16,496.33 508.53,490.64 508.91,494.69 509.28,507.08 509.66,492.75 510.03,494.65 510.41,495.23 510.78,497.27 511.16,475.16 511.53,485.51 511.91,482.98 512.28,499.08 512.66,503.40 513.03,495.66 513.41,490.15 513.78,496.29 514.16,494.64 514.53,482.62 514.91,489.52 515.28,502.90 515.66,497.08 516.03,499.47 516.41,490.70 516.78,504.77 517.16,494.43 517.53,485.30 517.91,492.23 518.29,502.07 518.66,498.95 519.04,491.19 519.41,487.42 519.79,483.70 520.16,493.96 520.54,506.22 520.91,477.50 521.29,489.28 521.66,488.14 522.04,489.17 522.41,503.23 522.79,495.69 523.16,489.64 523.54,481.50 523.91,491.67 524.29,524.99 524.66,494.81 525.04,488.56 525.41,478.68 525.79,484.77 526.16,466.10 526.54,477.26 526.91,478.05 527.29,482.28 527.66,506.67 528.04,483.26 528.41,485.84 528.79,497.64 529.17,485.94 529.54,487.70 529.92,496.96 530.29,493.36 530.67,494.82 531.04,489.61 531.42,496.49 531.79,486.28 532.17,512.16 532.54,494.94 532.92,509.69 533.29,497.03 533.67,486.50 534.04,491.70 534.42,493.07 534.79,491.17 535.17,475.36 535.54,503.52 535.92,482.50 536.29,507.77 536.67,496.75 537.04,490.09 537.42,500.77 537.79,489.62 538.17,484.09 538.54,504.34 538.92,492.56 539.29,495.70 539.67,512.18 540.04,493.67 540.42,500.10 540.80,477.54 541.17,500.90 541.55,473.70 541.92,497.26 542.30,471.15 542.67,485.90 543.05,486.79 543.42,483.06 543.80,482.02 544.17,476.71 544.55,473.21 544.92,495.18 545.30,504.72 545.67,519.74 546.05,495.57 546.42,483.42 546.80,487.44 547.17,490.21 547.55,495.12 547.92,498.18 548.30,494.39 548.67,487.26 549.05,510.04 549.42,483.63 549.80,506.78 550.17,492.99 550.55,498.03 550.92,495.20 551.30,502.38" fill="none" stroke="#656b6f" stroke-width="2.0" stroke-linejoin="bevel"/>
<polyline points="101.10,452.26 196.77,452.26 196.77,486.54 551.30,486.54" fill="none" stroke="#141414" stroke-width="2.0" stroke-linejoin="miter"/>
<line x1="129.09" y1="452.26" x2="129.09" y2="398.82" stroke="#141414" stroke-width="2.9" stroke-linecap="round"/>
<line x1="174.78" y1="452.26" x2="174.78" y2="486.31" stroke="#141414" stroke-width="3.3" stroke-linecap="round"/>
<line x1="162.0" y1="353.6" x2="132.7" y2="380.8" stroke="#1f1a18" stroke-width="3.6"/>
<polyline points="137.2,361.6 132.7,380.8 152.5,378.0" fill="none" stroke="#1f1a18" stroke-width="3.6" stroke-linejoin="miter" stroke-miterlimit="10"/>
<polygon points="132.7,380.8 137.7,371.8 141.7,375.8" fill="#1f1a18"/>
<rect x="671.2" y="15.4" width="363.20" height="247.60" fill="none" stroke="#141414" stroke-width="2.3"/>
<line x1="671.2" y1="208.00" x2="680.2" y2="208.00" stroke="#141414" stroke-width="2.3"/>
<line x1="1034.4" y1="208.00" x2="1025.4" y2="208.00" stroke="#141414" stroke-width="2.3"/>
<line x1="671.2" y1="153.00" x2="680.2" y2="153.00" stroke="#141414" stroke-width="2.3"/>
<line x1="1034.4" y1="153.00" x2="1025.4" y2="153.00" stroke="#141414" stroke-width="2.3"/>
<line x1="671.2" y1="98.00" x2="680.2" y2="98.00" stroke="#141414" stroke-width="2.3"/>
<line x1="1034.4" y1="98.00" x2="1025.4" y2="98.00" stroke="#141414" stroke-width="2.3"/>
<line x1="671.2" y1="43.00" x2="680.2" y2="43.00" stroke="#141414" stroke-width="2.3"/>
<line x1="1034.4" y1="43.00" x2="1025.4" y2="43.00" stroke="#141414" stroke-width="2.3"/>
<line x1="743.60" y1="15.4" x2="743.60" y2="24.4" stroke="#141414" stroke-width="2.3"/>
<line x1="743.60" y1="263.0" x2="743.60" y2="254.0" stroke="#141414" stroke-width="2.3"/>
<line x1="816.20" y1="15.4" x2="816.20" y2="24.4" stroke="#141414" stroke-width="2.3"/>
<line x1="816.20" y1="263.0" x2="816.20" y2="254.0" stroke="#141414" stroke-width="2.3"/>
<line x1="888.80" y1="15.4" x2="888.80" y2="24.4" stroke="#141414" stroke-width="2.3"/>
<line x1="888.80" y1="263.0" x2="888.80" y2="254.0" stroke="#141414" stroke-width="2.3"/>
<line x1="961.40" y1="15.4" x2="961.40" y2="24.4" stroke="#141414" stroke-width="2.3"/>
<line x1="961.40" y1="263.0" x2="961.40" y2="254.0" stroke="#141414" stroke-width="2.3"/>
<rect x="672.60" y="258.10" width="7.44" height="4.90" fill="#434a4d" stroke="#141414" stroke-width="1.6"/>
<rect x="680.04" y="249.40" width="7.44" height="13.60" fill="#434a4d" stroke="#141414" stroke-width="1.6"/>
<rect x="687.48" y="223.00" width="7.44" height="40.00" fill="#434a4d" stroke="#141414" stroke-width="1.6"/>
<rect x="694.92" y="175.00" width="7.44" height="88.00" fill="#434a4d" stroke="#141414" stroke-width="1.6"/>
<rect x="702.36" y="106.60" width="7.44" height="156.40" fill="#434a4d" stroke="#141414" stroke-width="1.6"/>
<rect x="709.80" y="81.80" width="7.44" height="181.20" fill="#434a4d" stroke="#141414" stroke-width="1.6"/>
<rect x="717.24" y="55.50" width="7.44" height="207.50" fill="#434a4d" stroke="#141414" stroke-width="1.6"/>
<rect x="724.68" y="32.40" width="7.44" height="230.60" fill="#434a4d" stroke="#141414" stroke-width="1.6"/>
<rect x="732.12" y="32.40" width="7.44" height="230.60" fill="#434a4d" stroke="#141414" stroke-width="1.6"/>
<rect x="739.56" y="67.20" width="7.44" height="195.80" fill="#434a4d" stroke="#141414" stroke-width="1.6"/>
<rect x="747.00" y="108.20" width="7.44" height="154.80" fill="#434a4d" stroke="#141414" stroke-width="1.6"/>
<rect x="754.44" y="147.00" width="7.44" height="116.00" fill="#434a4d" stroke="#141414" stroke-width="1.6"/>
<rect x="761.88" y="172.40" width="7.44" height="90.60" fill="#434a4d" stroke="#141414" stroke-width="1.6"/>
<rect x="769.32" y="186.20" width="7.44" height="76.80" fill="#434a4d" stroke="#141414" stroke-width="1.6"/>
<rect x="776.76" y="183.50" width="7.44" height="79.50" fill="#434a4d" stroke="#141414" stroke-width="1.6"/>
<rect x="784.20" y="175.40" width="7.44" height="87.60" fill="#434a4d" stroke="#141414" stroke-width="1.6"/>
<rect x="791.64" y="159.60" width="7.44" height="103.40" fill="#434a4d" stroke="#141414" stroke-width="1.6"/>
<rect x="799.08" y="149.50" width="7.44" height="113.50" fill="#434a4d" stroke="#141414" stroke-width="1.6"/>
<rect x="806.52" y="149.80" width="7.44" height="113.20" fill="#434a4d" stroke="#141414" stroke-width="1.6"/>
<rect x="813.96" y="161.80" width="7.44" height="101.20" fill="#434a4d" stroke="#141414" stroke-width="1.6"/>
<rect x="821.40" y="183.30" width="7.44" height="79.70" fill="#434a4d" stroke="#141414" stroke-width="1.6"/>
<rect x="828.84" y="206.50" width="7.44" height="56.50" fill="#434a4d" stroke="#141414" stroke-width="1.6"/>
<rect x="836.28" y="225.30" width="7.44" height="37.70" fill="#434a4d" stroke="#141414" stroke-width="1.6"/>
<rect x="843.72" y="238.50" width="7.44" height="24.50" fill="#434a4d" stroke="#141414" stroke-width="1.6"/>
<rect x="851.16" y="249.10" width="7.44" height="13.90" fill="#434a4d" stroke="#141414" stroke-width="1.6"/>
<rect x="858.60" y="252.50" width="7.44" height="10.50" fill="#434a4d" stroke="#141414" stroke-width="1.6"/>
<rect x="866.04" y="254.30" width="7.44" height="8.70" fill="#434a4d" stroke="#141414" stroke-width="1.6"/>
<rect x="873.48" y="253.00" width="7.44" height="10.00" fill="#434a4d" stroke="#141414" stroke-width="1.6"/>
<rect x="880.92" y="252.50" width="7.44" height="10.50" fill="#434a4d" stroke="#141414" stroke-width="1.6"/>
<rect x="888.36" y="251.40" width="7.44" height="11.60" fill="#434a4d" stroke="#141414" stroke-width="1.6"/>
<rect x="895.80" y="250.30" width="7.44" height="12.70" fill="#434a4d" stroke="#141414" stroke-width="1.6"/>
<rect x="903.24" y="249.30" width="7.44" height="13.70" fill="#434a4d" stroke="#141414" stroke-width="1.6"/>
<rect x="910.68" y="251.00" width="7.44" height="12.00" fill="#434a4d" stroke="#141414" stroke-width="1.6"/>
<rect x="918.12" y="254.00" width="7.44" height="9.00" fill="#434a4d" stroke="#141414" stroke-width="1.6"/>
<rect x="925.56" y="256.00" width="7.44" height="7.00" fill="#434a4d" stroke="#141414" stroke-width="1.6"/>
<rect x="933.00" y="258.30" width="7.44" height="4.70" fill="#434a4d" stroke="#141414" stroke-width="1.6"/>
<rect x="940.44" y="260.00" width="7.44" height="3.00" fill="#434a4d" stroke="#141414" stroke-width="1.6"/>
<rect x="947.88" y="261.50" width="7.44" height="1.50" fill="#434a4d" stroke="#141414" stroke-width="1.6"/>
<polyline points="671.50,256.24 673.08,254.84 674.65,253.20 676.23,251.29 677.81,249.08 679.39,246.53 680.97,243.62 682.54,240.31 684.12,236.58 685.70,232.38 687.27,227.71 688.85,222.52 690.43,216.82 692.01,210.58 693.59,203.80 695.16,196.49 696.74,188.66 698.32,180.34 699.89,171.55 701.47,162.35 703.05,152.79 704.63,142.94 706.21,132.88 707.78,122.70 709.36,112.50 710.94,102.39 712.51,92.48 714.09,82.88 715.67,73.73 717.25,65.12 718.83,57.18 720.40,50.03 721.98,43.75 723.56,38.45 725.13,34.20 726.71,31.07 728.29,29.09 729.87,28.31 731.45,28.74 733.02,30.36 734.60,33.16 736.18,37.09 737.75,42.09 739.33,48.08 740.91,54.99 742.49,62.71 744.07,71.13 745.64,80.13 747.22,89.61 748.80,99.44 750.38,109.51 751.95,119.69 753.53,129.89 755.11,139.99 756.69,149.91 758.26,159.56 759.84,168.88 761.42,177.79 763.00,186.26 764.57,194.24 766.15,201.70 767.73,208.64 769.31,215.04 770.88,220.90 772.46,226.23 774.04,231.06 775.62,235.39 777.19,239.26 778.77,242.69 780.35,245.71 781.93,248.36 783.50,250.67 785.08,252.66 786.66,254.38 788.24,255.85 789.81,257.10 791.39,258.16 792.97,259.04 794.55,259.78 796.12,260.40 797.70,260.91" fill="none" stroke="#d02327" stroke-width="2.5"/>
<polyline points="740.00,261.74 741.65,261.42 743.30,261.04 744.95,260.58 746.60,260.03 748.25,259.38 749.90,258.60 751.55,257.69 753.20,256.62 754.85,255.39 756.50,253.96 758.15,252.33 759.80,250.48 761.45,248.38 763.10,246.03 764.75,243.41 766.40,240.52 768.05,237.34 769.70,233.88 771.35,230.14 773.00,226.12 774.65,221.84 776.30,217.33 777.95,212.61 779.60,207.70 781.25,202.67 782.90,197.54 784.55,192.38 786.20,187.23 787.85,182.17 789.50,177.25 791.15,172.54 792.80,168.11 794.45,164.02 796.10,160.34 797.75,157.11 799.40,154.40 801.05,152.24 802.70,150.67 804.35,149.72 806.00,149.40 807.65,149.72 809.30,150.67 810.95,152.24 812.60,154.40 814.25,157.11 815.90,160.34 817.55,164.02 819.20,168.11 820.85,172.54 822.50,177.25 824.15,182.17 825.80,187.23 827.45,192.38 829.10,197.54 830.75,202.67 832.40,207.70 834.05,212.61 835.70,217.33 837.35,221.84 839.00,226.12 840.65,230.14 842.30,233.88 843.95,237.34 845.60,240.52 847.25,243.41 848.90,246.03 850.55,248.38 852.20,250.48 853.85,252.33 855.50,253.96 857.15,255.39 858.80,256.62 860.45,257.69 862.10,258.60 863.75,259.38 865.40,260.03 867.05,260.58 868.70,261.04 870.35,261.42 872.00,261.74" fill="none" stroke="#d02327" stroke-width="2.5"/>
<polyline points="842.00,262.57 843.58,262.49 845.15,262.40 846.73,262.30 848.30,262.18 849.88,262.04 851.45,261.88 853.02,261.71 854.60,261.51 856.17,261.29 857.75,261.05 859.33,260.78 860.90,260.49 862.48,260.17 864.05,259.83 865.62,259.45 867.20,259.05 868.77,258.63 870.35,258.18 871.92,257.70 873.50,257.20 875.08,256.69 876.65,256.15 878.23,255.61 879.80,255.05 881.38,254.49 882.95,253.93 884.52,253.38 886.10,252.83 887.67,252.30 889.25,251.79 890.83,251.30 892.40,250.85 893.98,250.44 895.55,250.06 897.12,249.73 898.70,249.45 900.27,249.23 901.85,249.06 903.42,248.95 905.00,248.90 906.58,248.91 908.15,248.99 909.73,249.12 911.30,249.31 912.88,249.55 914.45,249.85 916.02,250.19 917.60,250.58 919.17,251.01 920.75,251.48 922.33,251.97 923.90,252.49 925.48,253.03 927.05,253.58 928.62,254.14 930.20,254.70 931.77,255.26 933.35,255.81 934.92,256.35 936.50,256.88 938.08,257.39 939.65,257.88 941.23,258.34 942.80,258.79 944.38,259.20 945.95,259.59 947.52,259.96 949.10,260.29 950.67,260.60 952.25,260.89 953.83,261.14 955.40,261.38 956.98,261.59 958.55,261.77 960.12,261.94 961.70,262.09 963.27,262.22 964.85,262.34 966.42,262.44 968.00,262.53" fill="none" stroke="#d02327" stroke-width="2.5"/>
<line x1="967.6" y1="263.9" x2="976.7" y2="263.9" stroke="#141414" stroke-width="1.3"/>
<rect x="671.2" y="299.4" width="363.20" height="246.80" fill="none" stroke="#141414" stroke-width="2.3"/>
<line x1="671.2" y1="491.36" x2="680.2" y2="491.36" stroke="#141414" stroke-width="2.3"/>
<line x1="1034.4" y1="491.36" x2="1025.4" y2="491.36" stroke="#141414" stroke-width="2.3"/>
<line x1="671.2" y1="436.52" x2="680.2" y2="436.52" stroke="#141414" stroke-width="2.3"/>
<line x1="1034.4" y1="436.52" x2="1025.4" y2="436.52" stroke="#141414" stroke-width="2.3"/>
<line x1="671.2" y1="381.68" x2="680.2" y2="381.68" stroke="#141414" stroke-width="2.3"/>
<line x1="1034.4" y1="381.68" x2="1025.4" y2="381.68" stroke="#141414" stroke-width="2.3"/>
<line x1="671.2" y1="326.84" x2="680.2" y2="326.84" stroke="#141414" stroke-width="2.3"/>
<line x1="1034.4" y1="326.84" x2="1025.4" y2="326.84" stroke="#141414" stroke-width="2.3"/>
<line x1="743.60" y1="299.4" x2="743.60" y2="308.4" stroke="#141414" stroke-width="2.3"/>
<line x1="743.60" y1="546.2" x2="743.60" y2="537.2" stroke="#141414" stroke-width="2.3"/>
<line x1="816.20" y1="299.4" x2="816.20" y2="308.4" stroke="#141414" stroke-width="2.3"/>
<line x1="816.20" y1="546.2" x2="816.20" y2="537.2" stroke="#141414" stroke-width="2.3"/>
<line x1="888.80" y1="299.4" x2="888.80" y2="308.4" stroke="#141414" stroke-width="2.3"/>
<line x1="888.80" y1="546.2" x2="888.80" y2="537.2" stroke="#141414" stroke-width="2.3"/>
<line x1="961.40" y1="299.4" x2="961.40" y2="308.4" stroke="#141414" stroke-width="2.3"/>
<line x1="961.40" y1="546.2" x2="961.40" y2="537.2" stroke="#141414" stroke-width="2.3"/>
<rect x="672.60" y="541.00" width="7.44" height="5.20" fill="#434a4d" stroke="#141414" stroke-width="1.6"/>
<rect x="680.04" y="534.50" width="7.44" height="11.70" fill="#434a4d" stroke="#141414" stroke-width="1.6"/>
<rect x="687.48" y="518.30" width="7.44" height="27.90" fill="#434a4d" stroke="#141414" stroke-width="1.6"/>
<rect x="694.92" y="493.90" width="7.44" height="52.30" fill="#434a4d" stroke="#141414" stroke-width="1.6"/>
<rect x="702.36" y="443.20" width="7.44" height="103.00" fill="#434a4d" stroke="#141414" stroke-width="1.6"/>
<rect x="709.80" y="391.80" width="7.44" height="154.40" fill="#434a4d" stroke="#141414" stroke-width="1.6"/>
<rect x="717.24" y="351.20" width="7.44" height="195.00" fill="#434a4d" stroke="#141414" stroke-width="1.6"/>
<rect x="724.68" y="326.30" width="7.44" height="219.90" fill="#434a4d" stroke="#141414" stroke-width="1.6"/>
<rect x="732.12" y="337.80" width="7.44" height="208.40" fill="#434a4d" stroke="#141414" stroke-width="1.6"/>
<rect x="739.56" y="353.70" width="7.44" height="192.50" fill="#434a4d" stroke="#141414" stroke-width="1.6"/>
<rect x="747.00" y="366.80" width="7.44" height="179.40" fill="#434a4d" stroke="#141414" stroke-width="1.6"/>
<rect x="754.44" y="388.50" width="7.44" height="157.70" fill="#434a4d" stroke="#141414" stroke-width="1.6"/>
<rect x="761.88" y="408.40" width="7.44" height="137.80" fill="#434a4d" stroke="#141414" stroke-width="1.6"/>
<rect x="769.32" y="430.70" width="7.44" height="115.50" fill="#434a4d" stroke="#141414" stroke-width="1.6"/>
<rect x="776.76" y="439.20" width="7.44" height="107.00" fill="#434a4d" stroke="#141414" stroke-width="1.6"/>
<rect x="784.20" y="447.90" width="7.44" height="98.30" fill="#434a4d" stroke="#141414" stroke-width="1.6"/>
<rect x="791.64" y="451.40" width="7.44" height="94.80" fill="#434a4d" stroke="#141414" stroke-width="1.6"/>
<rect x="799.08" y="447.30" width="7.44" height="98.90" fill="#434a4d" stroke="#141414" stroke-width="1.6"/>
<rect x="806.52" y="455.30" width="7.44" height="90.90" fill="#434a4d" stroke="#141414" stroke-width="1.6"/>
<rect x="813.96" y="464.90" width="7.44" height="81.30" fill="#434a4d" stroke="#141414" stroke-width="1.6"/>
<rect x="821.40" y="482.10" width="7.44" height="64.10" fill="#434a4d" stroke="#141414" stroke-width="1.6"/>
<rect x="828.84" y="489.50" width="7.44" height="56.70" fill="#434a4d" stroke="#141414" stroke-width="1.6"/>
<rect x="836.28" y="505.20" width="7.44" height="41.00" fill="#434a4d" stroke="#141414" stroke-width="1.6"/>
<rect x="843.72" y="513.70" width="7.44" height="32.50" fill="#434a4d" stroke="#141414" stroke-width="1.6"/>
<rect x="851.16" y="520.20" width="7.44" height="26.00" fill="#434a4d" stroke="#141414" stroke-width="1.6"/>
<rect x="858.60" y="525.30" width="7.44" height="20.90" fill="#434a4d" stroke="#141414" stroke-width="1.6"/>
<rect x="866.04" y="528.70" width="7.44" height="17.50" fill="#434a4d" stroke="#141414" stroke-width="1.6"/>
<rect x="873.48" y="528.70" width="7.44" height="17.50" fill="#434a4d" stroke="#141414" stroke-width="1.6"/>
<rect x="880.92" y="530.20" width="7.44" height="16.00" fill="#434a4d" stroke="#141414" stroke-width="1.6"/>
<rect x="888.36" y="533.40" width="7.44" height="12.80" fill="#434a4d" stroke="#141414" stroke-width="1.6"/>
<rect x="895.80" y="534.90" width="7.44" height="11.30" fill="#434a4d" stroke="#141414" stroke-width="1.6"/>
<rect x="903.24" y="537.30" width="7.44" height="8.90" fill="#434a4d" stroke="#141414" stroke-width="1.6"/>
<rect x="910.68" y="537.30" width="7.44" height="8.90" fill="#434a4d" stroke="#141414" stroke-width="1.6"/>
<rect x="918.12" y="538.80" width="7.44" height="7.40" fill="#434a4d" stroke="#141414" stroke-width="1.6"/>
<rect x="925.56" y="539.80" width="7.44" height="6.40" fill="#434a4d" stroke="#141414" stroke-width="1.6"/>
<rect x="933.00" y="542.40" width="7.44" height="3.80" fill="#434a4d" stroke="#141414" stroke-width="1.6"/>
<rect x="940.44" y="543.00" width="7.44" height="3.20" fill="#434a4d" stroke="#141414" stroke-width="1.6"/>
<rect x="947.88" y="543.70" width="7.44" height="2.50" fill="#434a4d" stroke="#141414" stroke-width="1.6"/>
<rect x="955.32" y="545.20" width="7.44" height="1.00" fill="#434a4d" stroke="#141414" stroke-width="1.6"/>
<rect x="962.76" y="545.50" width="7.44" height="0.70" fill="#434a4d" stroke="#141414" stroke-width="1.6"/>
<polyline points="671.50,540.48 673.23,539.26 674.96,537.82 676.69,536.15 678.42,534.20 680.16,531.95 681.89,529.37 683.62,526.43 685.35,523.09 687.08,519.33 688.81,515.13 690.54,510.46 692.27,505.30 694.01,499.65 695.74,493.49 697.47,486.84 699.20,479.70 700.93,472.09 702.66,464.05 704.39,455.62 706.12,446.85 707.86,437.80 709.59,428.56 711.32,419.20 713.05,409.82 714.78,400.52 716.51,391.40 718.24,382.59 719.98,374.18 721.71,366.30 723.44,359.05 725.17,352.53 726.90,346.85 728.63,342.08 730.36,338.30 732.09,335.57 733.83,333.93 735.56,333.40 737.29,334.00 739.02,335.71 740.75,338.51 742.48,342.36 744.21,347.19 745.94,352.93 747.67,359.50 749.41,366.79 751.14,374.71 752.87,383.15 754.60,391.99 756.33,401.12 758.06,410.43 759.79,419.81 761.52,429.16 763.26,438.40 764.99,447.43 766.72,456.18 768.45,464.59 770.18,472.60 771.91,480.18 773.64,487.29 775.38,493.91 777.11,500.03 778.84,505.65 780.57,510.78 782.30,515.42 784.03,519.59 785.76,523.32 787.49,526.63 789.23,529.55 790.96,532.11 792.69,534.34 794.42,536.26 796.15,537.92 797.88,539.34 799.61,540.55 801.34,541.57 803.08,542.42 804.81,543.13 806.54,543.73 808.27,544.21 810.00,544.61" fill="none" stroke="#d02327" stroke-width="2.5"/>
<polyline points="724.80,545.25 726.82,545.01 728.85,544.72 730.87,544.36 732.89,543.92 734.92,543.41 736.94,542.79 738.97,542.07 740.99,541.21 743.01,540.22 745.04,539.07 747.06,537.75 749.08,536.25 751.11,534.54 753.13,532.62 755.16,530.48 757.18,528.10 759.20,525.49 761.23,522.64 763.25,519.54 765.27,516.22 767.30,512.69 769.32,508.95 771.35,505.04 773.37,500.98 775.39,496.80 777.42,492.56 779.44,488.29 781.47,484.05 783.49,479.88 785.51,475.84 787.54,472.00 789.56,468.39 791.58,465.09 793.61,462.14 795.63,459.59 797.65,457.47 799.68,455.84 801.70,454.71 803.73,454.11 805.75,454.04 807.77,454.50 809.80,455.50 811.82,457.00 813.85,459.00 815.87,461.44 817.89,464.29 819.92,467.51 821.94,471.04 823.96,474.83 825.99,478.82 828.01,482.96 830.03,487.19 832.06,491.46 834.08,495.71 836.11,499.91 838.13,504.00 840.15,507.95 842.18,511.74 844.20,515.33 846.23,518.71 848.25,521.86 850.27,524.77 852.30,527.45 854.32,529.89 856.34,532.09 858.37,534.06 860.39,535.82 862.41,537.38 864.44,538.75 866.46,539.94 868.49,540.97 870.51,541.86 872.53,542.62 874.56,543.26 876.58,543.80 878.61,544.25 880.63,544.63 882.65,544.94 884.68,545.20 886.70,545.40" fill="none" stroke="#d02327" stroke-width="2.5"/>
<polyline points="832.00,545.76 833.58,545.68 835.16,545.59 836.74,545.48 838.32,545.35 839.89,545.21 841.47,545.05 843.05,544.87 844.63,544.67 846.21,544.44 847.79,544.19 849.37,543.91 850.94,543.61 852.52,543.28 854.10,542.92 855.68,542.54 857.26,542.13 858.84,541.68 860.42,541.22 862.00,540.73 863.58,540.21 865.15,539.68 866.73,539.13 868.31,538.57 869.89,537.99 871.47,537.42 873.05,536.84 874.63,536.27 876.20,535.70 877.78,535.16 879.36,534.63 880.94,534.14 882.52,533.67 884.10,533.25 885.68,532.86 887.26,532.53 888.84,532.25 890.41,532.02 891.99,531.85 893.57,531.75 895.15,531.70 896.73,531.72 898.31,531.80 899.89,531.94 901.46,532.14 903.04,532.40 904.62,532.71 906.20,533.07 907.78,533.48 909.36,533.93 910.94,534.41 912.52,534.92 914.10,535.46 915.67,536.02 917.25,536.58 918.83,537.16 920.41,537.74 921.99,538.31 923.57,538.88 925.15,539.44 926.72,539.98 928.30,540.50 929.88,541.00 931.46,541.48 933.04,541.93 934.62,542.36 936.20,542.76 937.78,543.13 939.36,543.47 940.93,543.78 942.51,544.07 944.09,544.33 945.67,544.57 947.25,544.78 948.83,544.97 950.41,545.14 951.98,545.29 953.56,545.42 955.14,545.54 956.72,545.64 958.30,545.73" fill="none" stroke="#d02327" stroke-width="2.5"/>
<line x1="967.6" y1="547.4" x2="1005.7" y2="547.4" stroke="#141414" stroke-width="1.4"/>
<line x1="1011.4" y1="547.4" x2="1021" y2="547.4" stroke="#141414" stroke-width="1.4"/>
<text x="4.10" y="34.04" class="big" style="font-size:54.82px" textLength="27.17" lengthAdjust="spacingAndGlyphs">a</text>
<text x="2.70" y="329.33" class="big" style="font-size:55.15px" textLength="34.56" lengthAdjust="spacingAndGlyphs">b</text>
<text x="62.67" y="248.29" class="tk" style="font-size:21.95px" textLength="32.31" lengthAdjust="spacingAndGlyphs">0.0</text>
<text x="62.66" y="203.33" class="tk" style="font-size:21.95px" textLength="32.31" lengthAdjust="spacingAndGlyphs">0.2</text>
<text x="62.26" y="158.37" class="tk" style="font-size:21.95px" textLength="32.31" lengthAdjust="spacingAndGlyphs">0.4</text>
<text x="62.62" y="112.71" class="tk" style="font-size:21.95px" textLength="32.31" lengthAdjust="spacingAndGlyphs">0.6</text>
<text x="62.55" y="67.75" class="tk" style="font-size:21.95px" textLength="32.31" lengthAdjust="spacingAndGlyphs">0.8</text>
<text x="62.59" y="22.79" class="tk" style="font-size:21.95px" textLength="32.31" lengthAdjust="spacingAndGlyphs">1.0</text>
<text x="62.67" y="532.87" class="tk" style="font-size:21.95px" textLength="32.31" lengthAdjust="spacingAndGlyphs">0.0</text>
<text x="62.66" y="487.21" class="tk" style="font-size:21.95px" textLength="32.31" lengthAdjust="spacingAndGlyphs">0.2</text>
<text x="62.26" y="442.25" class="tk" style="font-size:21.95px" textLength="32.31" lengthAdjust="spacingAndGlyphs">0.4</text>
<text x="62.62" y="397.29" class="tk" style="font-size:21.95px" textLength="32.31" lengthAdjust="spacingAndGlyphs">0.6</text>
<text x="62.55" y="352.33" class="tk" style="font-size:21.95px" textLength="32.31" lengthAdjust="spacingAndGlyphs">0.8</text>
<text x="62.59" y="307.37" class="tk" style="font-size:21.95px" textLength="32.31" lengthAdjust="spacingAndGlyphs">1.0</text>
<text x="624.41" y="270.54" class="tk" style="font-size:21.90px" textLength="41.22" lengthAdjust="spacingAndGlyphs">0.00</text>
<text x="624.40" y="215.54" class="tk" style="font-size:21.90px" textLength="41.22" lengthAdjust="spacingAndGlyphs">0.02</text>
<text x="623.68" y="160.54" class="tk" style="font-size:21.90px" textLength="41.22" lengthAdjust="spacingAndGlyphs">0.04</text>
<text x="624.36" y="105.54" class="tk" style="font-size:21.90px" textLength="41.22" lengthAdjust="spacingAndGlyphs">0.06</text>
<text x="624.30" y="50.54" class="tk" style="font-size:21.90px" textLength="41.22" lengthAdjust="spacingAndGlyphs">0.08</text>
<text x="624.41" y="553.81" class="tk" style="font-size:21.90px" textLength="41.22" lengthAdjust="spacingAndGlyphs">0.00</text>
<text x="624.40" y="498.82" class="tk" style="font-size:21.90px" textLength="41.22" lengthAdjust="spacingAndGlyphs">0.02</text>
<text x="623.68" y="444.17" class="tk" style="font-size:21.90px" textLength="41.22" lengthAdjust="spacingAndGlyphs">0.04</text>
<text x="624.36" y="389.53" class="tk" style="font-size:21.90px" textLength="41.22" lengthAdjust="spacingAndGlyphs">0.06</text>
<text x="624.30" y="334.18" class="tk" style="font-size:21.90px" textLength="41.22" lengthAdjust="spacingAndGlyphs">0.08</text>
<text x="94.61" y="574.12" class="tk" style="font-size:22.02px" textLength="13.44" lengthAdjust="spacingAndGlyphs">0</text>
<text x="162.47" y="574.12" class="tk" style="font-size:22.02px" textLength="26.89" lengthAdjust="spacingAndGlyphs">10</text>
<text x="238.03" y="574.12" class="tk" style="font-size:22.02px" textLength="26.89" lengthAdjust="spacingAndGlyphs">20</text>
<text x="313.05" y="574.11" class="tk" style="font-size:22.02px" textLength="26.89" lengthAdjust="spacingAndGlyphs">30</text>
<text x="388.01" y="574.12" class="tk" style="font-size:22.02px" textLength="26.89" lengthAdjust="spacingAndGlyphs">40</text>
<text x="462.69" y="574.12" class="tk" style="font-size:22.02px" textLength="26.89" lengthAdjust="spacingAndGlyphs">50</text>
<text x="538.19" y="574.12" class="tk" style="font-size:22.02px" textLength="26.89" lengthAdjust="spacingAndGlyphs">60</text>
<text x="656.32" y="573.59" class="tk" style="font-size:23.39px" textLength="30.09" lengthAdjust="spacingAndGlyphs">0.0</text>
<text x="728.42" y="573.59" class="tk" style="font-size:23.39px" textLength="30.09" lengthAdjust="spacingAndGlyphs">0.2</text>
<text x="800.85" y="573.59" class="tk" style="font-size:23.39px" textLength="30.09" lengthAdjust="spacingAndGlyphs">0.4</text>
<text x="873.65" y="573.59" class="tk" style="font-size:23.39px" textLength="30.09" lengthAdjust="spacingAndGlyphs">0.6</text>
<text x="946.05" y="573.59" class="tk" style="font-size:23.39px" textLength="30.09" lengthAdjust="spacingAndGlyphs">0.8</text>
<text x="1018.71" y="573.59" class="tk" style="font-size:23.39px" textLength="30.09" lengthAdjust="spacingAndGlyphs">1.0</text>
<text x="281.48" y="611.37" class="ti" style="font-size:20.93px" textLength="89.94" lengthAdjust="spacingAndGlyphs">Time (s)</text>
<text x="825.08" y="610.07" class="ti" style="font-size:20.39px" textLength="54.13" lengthAdjust="spacingAndGlyphs">FRET</text>
<text transform="translate(25.28,166.41) rotate(-90)" x="0" y="0" class="ti" style="font-size:22.01px" textLength="54.12" lengthAdjust="spacingAndGlyphs">FRET</text>
<text transform="translate(27.92,448.34) rotate(-90)" x="0" y="0" class="ti" style="font-size:23.40px" textLength="54.14" lengthAdjust="spacingAndGlyphs">FRET</text>
<text transform="translate(591.32,193.11) rotate(-90)" x="0" y="0" class="ti" style="font-size:22.17px" textLength="106.30" lengthAdjust="spacingAndGlyphs">Frequency</text>
<text transform="translate(592.23,476.28) rotate(-90)" x="0" y="0" class="ti" style="font-size:22.17px" textLength="106.30" lengthAdjust="spacingAndGlyphs">Frequency</text>
<text x="908.69" y="64.49" class="lg" style="font-size:23.48px" textLength="99.04" lengthAdjust="spacingAndGlyphs">Mss116+</text>
<text x="908.54" y="91.49" class="lg" style="font-size:23.48px" textLength="55.04" lengthAdjust="spacingAndGlyphs">ATP-</text>
<text x="893.17" y="346.41" class="lg" style="font-size:23.48px" textLength="99.04" lengthAdjust="spacingAndGlyphs">Mss116+</text>
<text x="893.78" y="373.24" class="lg" style="font-size:23.48px" textLength="114.72" lengthAdjust="spacingAndGlyphs">AMPPNP+</text>
</svg>
</body></html>
